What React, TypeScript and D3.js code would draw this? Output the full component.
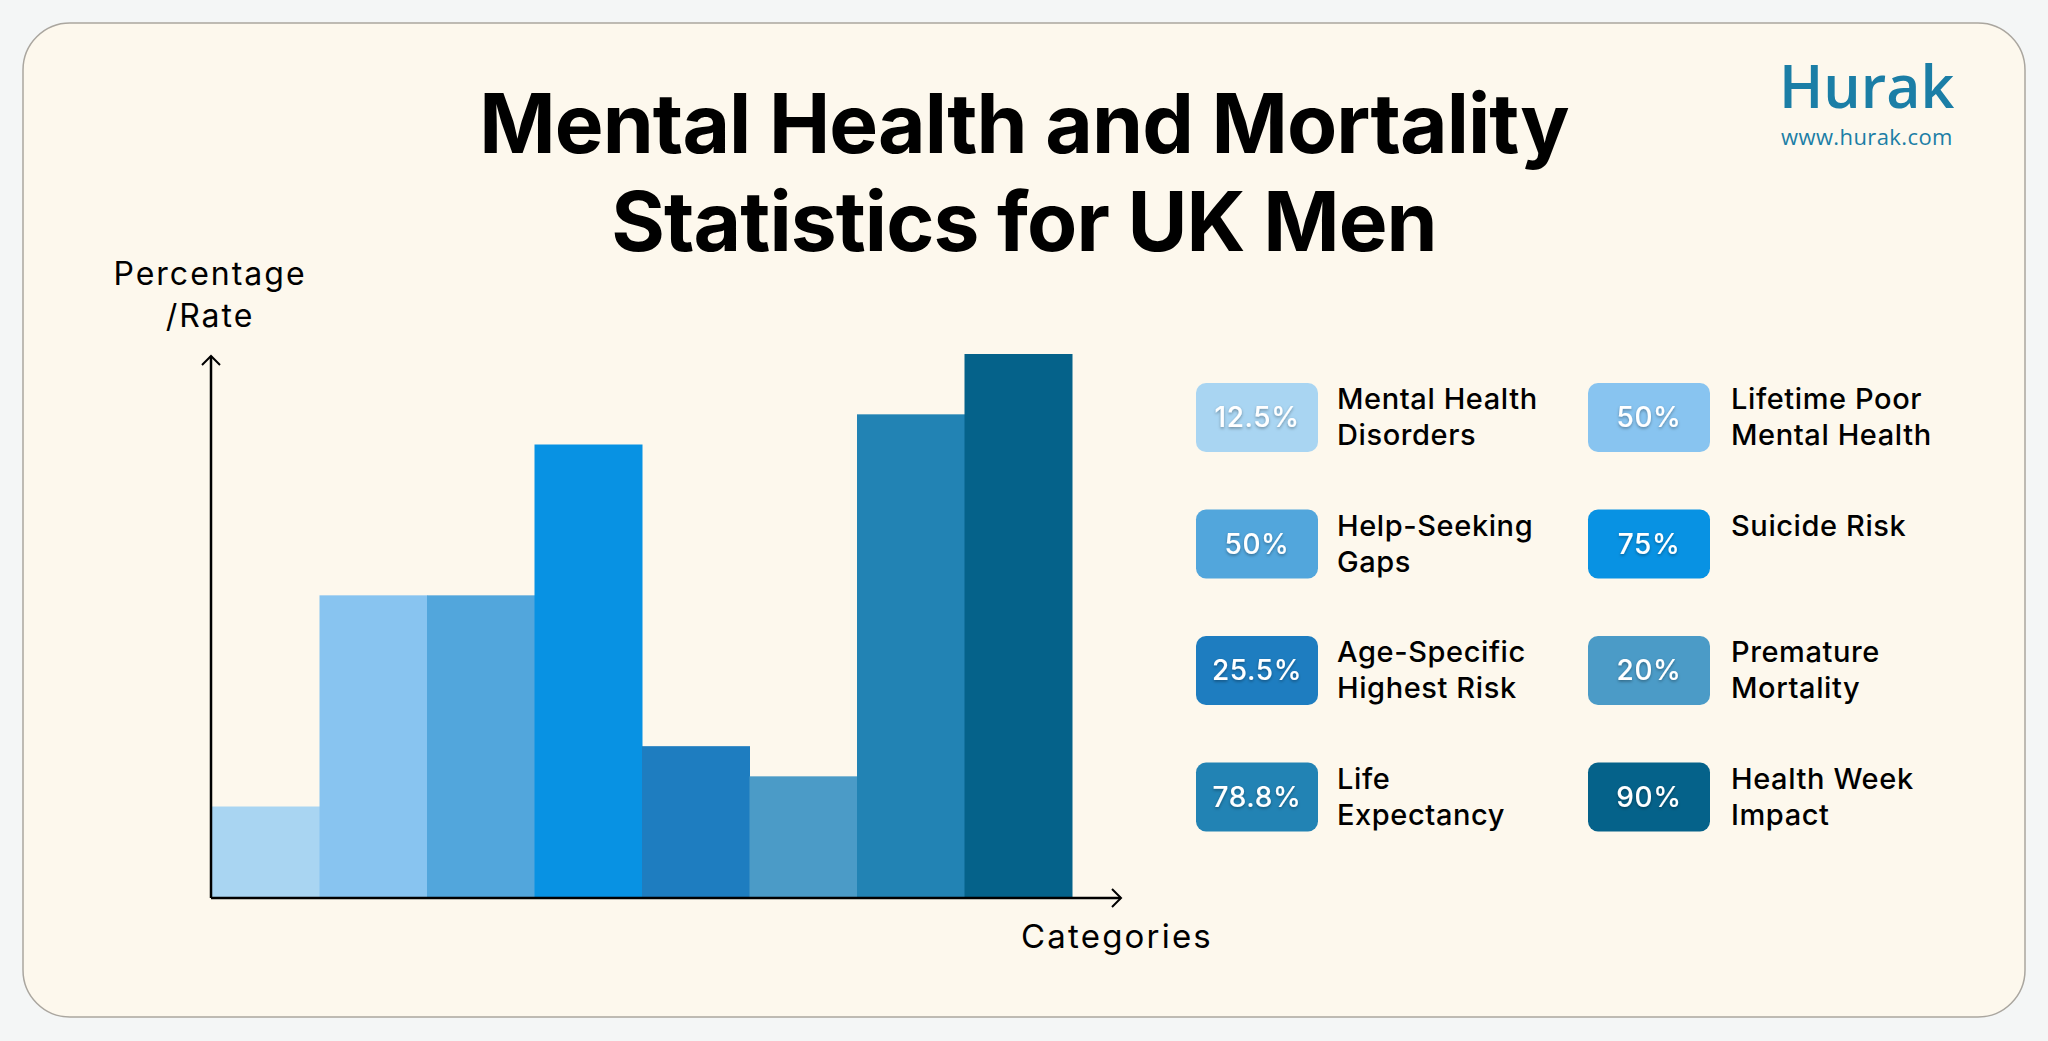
import React from "react";
import * as d3 from "d3";

const categories = [
  "Mental Health Disorders",
  "Lifetime Poor Mental Health",
  "Help-Seeking Gaps",
  "Suicide Risk",
  "Age-Specific Highest Risk",
  "Premature Mortality",
  "Life Expectancy",
  "Health Week Impact",
];
const labelLines = [
  ["Mental Health", "Disorders"],
  ["Lifetime Poor", "Mental Health"],
  ["Help-Seeking", "Gaps"],
  ["Suicide Risk"],
  ["Age-Specific", "Highest Risk"],
  ["Premature", "Mortality"],
  ["Life", "Expectancy"],
  ["Health Week", "Impact"],
];
const valueLabels = ["12.5%", "50%", "50%", "75%", "25.5%", "20%", "78.8%", "90%"];
const barValues = [15, 50, 50, 75, 25, 20, 80, 90];
const colors = ["#a9d5f2", "#88c4f0", "#52a6dc", "#0892e3", "#1e7dc0", "#4b9bc7", "#2283b4", "#05628a"];

const W = 2048;
const H = 1041;

export default function App() {
  const x = d3.scaleBand<string>().domain(categories).range([212, 1072]).padding(0);
  const y = d3.scaleLinear().domain([0, 90]).range([897, 354]);
  const axisX = 211;
  const axisY = 898;

  return (
    <svg width={W} height={H} style={{ position: "absolute", left: 0, top: 0 }}>
      <defs>
        <filter id="ts" x="-20%" y="-20%" width="140%" height="160%">
          <feDropShadow dx="0" dy="1.5" stdDeviation="1.5" floodColor="#000" floodOpacity="0.35" />
        </filter>
      </defs>
      <rect x={0} y={0} width={W} height={H} fill="#f4f6f6" />
      <rect x={23} y={23} width={2002} height={994} rx={47} ry={47} fill="#fdf8ed" stroke="#aaa69f" strokeWidth={1.5} />

      {/* Title */}
      <g fontFamily="Inter, sans-serif" fontWeight={700} fill="#000" textAnchor="middle" fontSize={82} letterSpacing={-0.9}>
        <text x={1024} y={153}>Mental Health and Mortality</text>
        <text x={1024} y={251}>Statistics for UK Men</text>
      </g>

      {/* Logo */}
      <g fontFamily="'Open Sans', sans-serif" fill="#1b7ea6">
        <text x={1779} y={108} fontSize={59} fontWeight={600}>Hurak</text>
        <text x={1781} y={145} fontSize={22} letterSpacing={0.4}>www.hurak.com</text>
      </g>

      {/* Bars */}
      {categories.map((c, i) => (
        <rect key={c} x={x(c)} y={y(barValues[i])} width={x.bandwidth() + 0.5} height={y(0) - y(barValues[i])} fill={colors[i]} />
      ))}

      {/* Axes */}
      <g stroke="#000" strokeWidth={2.5} fill="none">
        <line x1={axisX} y1={axisY} x2={axisX} y2={356} />
        <polyline points={`${axisX - 9},${365} ${axisX},${356} ${axisX + 9},${365}`} strokeWidth={2} />
        <line x1={axisX} y1={axisY} x2={1121} y2={axisY} />
        <polyline points={`${1112},${axisY - 9} ${1121},${axisY} ${1112},${axisY + 9}`} strokeWidth={2} />
      </g>
      <g fontFamily="Inter, sans-serif" fontSize={32} fill="#000" textAnchor="middle" letterSpacing={2}>
        <text x={210} y={285}>Percentage</text>
        <text x={210} y={327}>/Rate</text>
        <text x={1117} y={948} fontSize={33} letterSpacing={2.2}>Categories</text>
      </g>

      {/* Legend */}
      {categories.map((c, i) => {
        const col = i % 2;
        const row = Math.floor(i / 2);
        const bx = col === 0 ? 1196 : 1588;
        const by = 383 + row * 126.5;
        const tx = col === 0 ? 1337 : 1731;
        return (
          <g key={"lg" + c}>
            <rect x={bx} y={by} width={122} height={69} rx={10} fill={colors[i]} />
            <text x={bx + 61} y={by + 44} textAnchor="middle" fontFamily="Inter, sans-serif" fontSize={28} fontWeight={500} letterSpacing={0.6} fill="#fff" filter="url(#ts)">
              {valueLabels[i]}
            </text>
            {labelLines[i].map((l, k) => (
              <text key={k} x={tx} y={by + 26 + k * 36} fontFamily="Inter, sans-serif" fontSize={29} fontWeight={500} letterSpacing={0.6} fill="#000">
                {l}
              </text>
            ))}
          </g>
        );
      })}
    </svg>
  );
}
